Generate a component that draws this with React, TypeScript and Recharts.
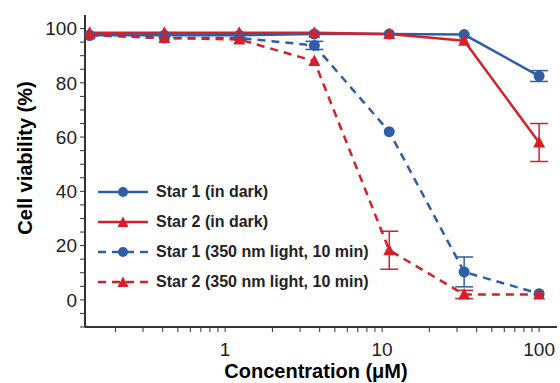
import { LineChart, Line, XAxis, YAxis, ErrorBar } from 'recharts'

// concentration in µM (3-fold dilution series)
const concentrations = [0.137, 0.41, 1.23, 3.7, 11.1, 33.3, 100]

const star1Dark = [97.5, 97.5, 97.5, 98, 98, 97.8, 82.5]
const star1DarkErr = [0, 0, 0, 0, 0, 0, 2]
const star2Dark = [98.5, 98.5, 98.5, 98.5, 98, 95.5, 58]
const star2DarkErr = [0, 0, 0, 0, 0, 0, 7]
const star1Light = [97.5, 96.5, 96.5, 93.8, 62, 10.3, 2.3]
const star1LightErr = [0, 0, 0, 1.5, 0, 5.5, 0]
const star2Light = [98, 96.5, 96, 88, 18.3, 2, 2]
const star2LightErr = [0, 0, 0, 0, 7, 1.5, 0]

const xTicks = [0.2, 0.3, 0.4, 0.5, 0.6, 0.7, 0.8, 0.9, 1, 2, 3, 4, 5, 6, 7, 8, 9, 10, 20, 30, 40, 50, 60, 70, 80, 90, 100]
const xLabels = [1, 10, 100]
const yTicks = [-10, -5, 0, 5, 10, 15, 20, 25, 30, 35, 40, 45, 50, 55, 60, 65, 70, 75, 80, 85, 90, 95, 100]
const yLabels = [0, 20, 40, 60, 80, 100]

const BLUE = '#2f5da6'
const RED = '#d5202a'
const INK = '#222'
const FONT = 'Liberation Sans, Arial, sans-serif'

const data = concentrations.map((c, i) => ({
  c,
  s1d: star1Dark[i], s1dErr: star1DarkErr[i],
  s2d: star2Dark[i], s2dErr: star2DarkErr[i],
  s1l: star1Light[i], s1lErr: star1LightErr[i],
  s2l: star2Light[i], s2lErr: star2LightErr[i],
}))

const series = [
  { key: 's1d', name: 'Star 1 (in dark)', color: BLUE, shape: 'circle', dashed: false },
  { key: 's2d', name: 'Star 2 (in dark)', color: RED, shape: 'triangle', dashed: false },
  { key: 's1l', name: 'Star 1 (350 nm light, 10 min)', color: BLUE, shape: 'circle', dashed: true },
  { key: 's2l', name: 'Star 2 (350 nm light, 10 min)', color: RED, shape: 'triangle', dashed: true },
]

function Marker({ cx, cy, color, shape }: any) {
  if (cx == null || cy == null) return null
  if (shape === 'triangle') {
    return <polygon points={`${cx},${cy - 6.5} ${cx - 6},${cy + 5} ${cx + 6},${cy + 5}`} fill={color} />
  }
  return <circle cx={cx} cy={cy} r={5.5} fill={color} />
}

function LegendBox() {
  return (
    <div style={{ position: 'absolute', left: 97, top: 177, fontFamily: FONT, fontWeight: 'bold', fontSize: 16, color: INK }}>
      {series.map(s => (
        <div key={s.key} style={{ display: 'flex', alignItems: 'center', height: 30 }}>
          <svg width={52} height={14} style={{ marginRight: 7 }}>
            <line x1={1} y1={7} x2={51} y2={7} stroke={s.color} strokeWidth={2.5} strokeDasharray={s.dashed ? '8 6' : undefined} />
            {s.shape === 'triangle'
              ? <polygon points="26,1.5 20.5,12 31.5,12" fill={s.color} />
              : <circle cx={26} cy={7} r={5} fill={s.color} />}
          </svg>
          <span>{s.name}</span>
        </div>
      ))}
    </div>
  )
}

export default function App() {
  return (
    <div style={{ position: 'absolute', left: 0, top: 0, width: 560, height: 383, background: '#fff' }}>
      <LineChart width={560} height={383} data={data} margin={{ top: 15, right: 3, left: 0, bottom: 0 }}>
        <XAxis
          xAxisId="top"
          orientation="top"
          dataKey="c"
          type="number"
          scale="log"
          domain={[0.128, 130]}
          allowDataOverflow
          tick={false}
          tickLine={false}
          height={0}
          axisLine={{ stroke: '#777', strokeWidth: 2 }}
        />
        <XAxis
          dataKey="c"
          type="number"
          scale="log"
          domain={[0.128, 130]}
          allowDataOverflow
          ticks={xTicks}
          interval={0}
          tickFormatter={(v: number) => (xLabels.includes(v) ? String(v) : '')}
          height={56}
          tickSize={5}
          tickMargin={11}
          axisLine={{ stroke: '#333', strokeWidth: 2 }}
          tickLine={{ stroke: '#333' }}
          tick={{ fill: INK, fontSize: 19, fontFamily: FONT }}
          label={{ value: 'Concentration (μM)', position: 'center', dy: 16, dx: -5, fill: '#000', fontSize: 20, fontWeight: 'bold', fontFamily: FONT }}
        />
        <YAxis
          yAxisId="right"
          orientation="right"
          type="number"
          domain={[-10, 105]}
          tick={false}
          tickLine={false}
          width={0}
          axisLine={{ stroke: '#777', strokeWidth: 2 }}
        />
        <YAxis
          type="number"
          domain={[-10, 105]}
          allowDataOverflow
          ticks={yTicks}
          interval={0}
          tickFormatter={(v: number) => (yLabels.includes(v) ? String(v) : '')}
          width={85}
          tickSize={5}
          tickMargin={3}
          axisLine={{ stroke: '#333', strokeWidth: 2 }}
          tickLine={{ stroke: '#333' }}
          tick={{ fill: INK, fontSize: 19, fontFamily: FONT }}
          label={{ value: 'Cell viability (%)', angle: -90, position: 'center', dx: -18, dy: -13, fill: '#000', fontSize: 20, fontWeight: 'bold', fontFamily: FONT }}
        />
        {series.map(s => (
          <Line
            key={s.key}
            dataKey={s.key}
            name={s.name}
            stroke={s.color}
            strokeWidth={2.5}
            strokeDasharray={s.dashed ? '8 6' : undefined}
            dot={(p: any) => <Marker key={`${s.key}-${p.index}`} cx={p.cx} cy={p.cy} color={s.color} shape={s.shape} />}
            activeDot={false}
            isAnimationActive={false}
          >
            <ErrorBar dataKey={`${s.key}Err`} direction="y" width={9} stroke={s.color} strokeWidth={1.5} />
          </Line>
        ))}
      </LineChart>
      <LegendBox />
    </div>
  )
}
